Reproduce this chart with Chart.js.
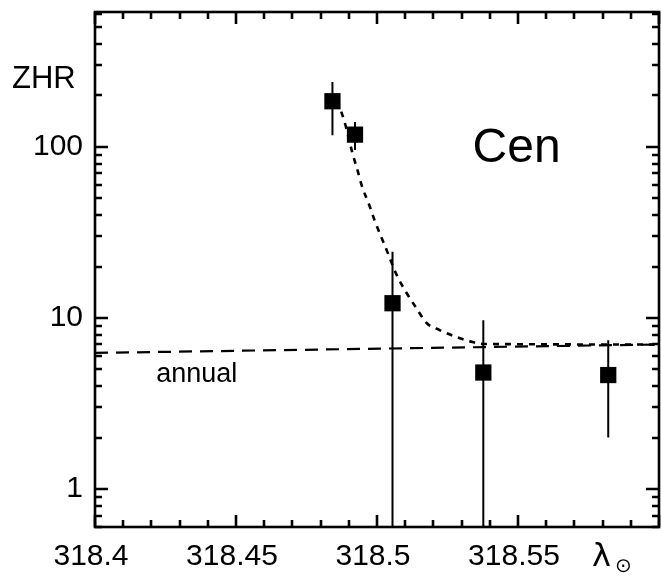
<!DOCTYPE html>
<html>
<head>
<meta charset="utf-8">
<script src="https://cdn.jsdelivr.net/npm/chart.js@4.4.1/dist/chart.umd.min.js"></script>
<style>
  html, body { margin: 0; padding: 0; background: #fff; }
  canvas { display: block; }
</style>
</head>
<body>
<canvas id="zhr" width="661" height="576"></canvas>
<script>
// Solar longitude (deg) and ZHR of the observed points, with error bar limits
const obsLon = [318.4842, 318.4922, 318.5055, 318.5377, 318.5820];
const obsZhr = [185, 118, 12.2, 4.8, 4.64];
const errHigh = [240, 140, 24.4, 9.7, 7.4];
const errLow = [117, 96, 0.3, 0.3, 2.0];

// Model profile (short dashes)
const fitLon = [318.4845, 318.4867, 318.4885, 318.4913, 318.4931, 318.4948, 318.4970, 318.4991,
                318.5012, 318.5034, 318.5052, 318.5073, 318.5105, 318.5140, 318.5176, 318.5222,
                318.5282, 318.5339, 318.5375, 318.6];
const fitZhr = [180, 169, 140, 92, 73, 58, 47, 37.4, 30.6, 25, 21, 17.4, 14, 11.4, 9.35, 8.5,
                7.74, 7.24, 7.05, 7.0];

// Annual shower level (long dashes)
const annualLon = [318.4, 318.6];
const annualZhr = [6.25, 7.0];

const xTickLabels = [318.4, 318.45, 318.5, 318.55];
const yTickLabels = [1, 10, 100];

const FONT = '"Liberation Sans", Arial, sans-serif';

function pairs(xs, ys) {
  return xs.map((x, i) => ({ x: x, y: ys[i] }));
}

// white page, frame, inward ticks on all four sides
const framePlugin = {
  id: 'frame',
  beforeDraw(chart) {
    const ctx = chart.ctx;
    ctx.save();
    ctx.fillStyle = '#fff';
    ctx.fillRect(0, 0, chart.width, chart.height);
    ctx.restore();
  },
  afterDraw(chart) {
    const { ctx, chartArea: a, scales: { x, y } } = chart;
    ctx.save();
    ctx.strokeStyle = '#000';
    ctx.lineWidth = 2.6;
    ctx.strokeRect(a.left, a.top, a.right - a.left, a.bottom - a.top);

    ctx.lineWidth = 2.6;
    ctx.beginPath();
    for (let d = -1; d <= 2; d++) {
      for (let m = 1; m <= 9; m++) {
        const v = m * Math.pow(10, d);
        if (v < y.min || v > y.max) continue;
        const py = Math.round(y.getPixelForValue(v));
        const len = m === 1 ? 13 : 7;
        ctx.moveTo(a.left, py); ctx.lineTo(a.left + len, py);
        ctx.moveTo(a.right, py); ctx.lineTo(a.right - len, py);
      }
    }
    for (let i = 0; i <= 20; i++) {
      const v = 318.4 + i * 0.01;
      const px = Math.round(x.getPixelForValue(v));
      const len = i % 5 === 0 ? 12 : 7;
      ctx.moveTo(px, a.bottom); ctx.lineTo(px, a.bottom - len);
      ctx.moveTo(px, a.top); ctx.lineTo(px, a.top + len);
    }
    ctx.stroke();

    // labels
    ctx.fillStyle = '#000';
    ctx.textBaseline = 'alphabetic';
    ctx.textAlign = 'left';
    ctx.font = '31px ' + FONT;
    ctx.fillText('ZHR', 12, 88);

    ctx.font = '48px ' + FONT;
    ctx.fillText('Cen', x.getPixelForValue(318.5339), y.getPixelForValue(81.7));

    ctx.font = '27px ' + FONT;
    ctx.fillText('annual', x.getPixelForValue(318.4217), y.getPixelForValue(4.23));

    ctx.font = '32px "DejaVu Sans", ' + FONT;
    ctx.fillText('λ', a.right - 67, 566);
    ctx.font = '20px "DejaVu Sans", ' + FONT;
    ctx.fillText('⊙', a.right - 44, 572);
    ctx.restore();
  }
};

// vertical error bars, clipped to the plot box
const errorBarPlugin = {
  id: 'errorBars',
  beforeDatasetsDraw(chart) {
    const { ctx, chartArea: a, scales: { x, y } } = chart;
    ctx.save();
    ctx.beginPath();
    ctx.rect(a.left, a.top, a.right - a.left, a.bottom - a.top);
    ctx.clip();
    ctx.strokeStyle = '#000';
    ctx.lineWidth = 2;
    ctx.beginPath();
    obsLon.forEach((lon, i) => {
      const px = x.getPixelForValue(lon);
      ctx.moveTo(px, y.getPixelForValue(errHigh[i]));
      ctx.lineTo(px, y.getPixelForValue(errLow[i]));
    });
    ctx.stroke();
    ctx.restore();
  }
};

new Chart(document.getElementById('zhr'), {
  type: 'scatter',
  data: {
    datasets: [
      {
        label: 'annual',
        type: 'line',
        data: pairs(annualLon, annualZhr),
        borderColor: '#000',
        borderWidth: 2.2,
        borderDash: [13, 8],
        pointRadius: 0,
        fill: false
      },
      {
        label: 'model',
        type: 'line',
        data: pairs(fitLon, fitZhr),
        borderColor: '#000',
        borderWidth: 2.6,
        borderDash: [6, 6],
        cubicInterpolationMode: 'monotone',
        pointRadius: 0,
        fill: false
      },
      {
        label: 'ZHR',
        data: pairs(obsLon, obsZhr),
        backgroundColor: '#000',
        borderColor: '#000',
        borderWidth: 0,
        pointStyle: 'rect',
        pointRadius: 11.5,
        pointHoverRadius: 11.5
      }
    ]
  },
  options: {
    responsive: false,
    animation: false,
    events: [],
    layout: { autoPadding: false, padding: { top: 12, right: 2, left: 0, bottom: 0 } },
    plugins: { legend: { display: false }, tooltip: { enabled: false } },
    scales: {
      x: {
        type: 'linear',
        min: 318.4,
        max: 318.6,
        grid: { display: false, drawTicks: false },
        border: { display: false },
        afterFit(scale) {
          scale.height = 49;
          scale.paddingLeft = 0;
          scale.paddingRight = 0;
        },
        afterBuildTicks(scale) { scale.ticks = xTickLabels.map(v => ({ value: v })); },
        ticks: {
          color: '#000',
          padding: 12,
          labelOffset: -4,
          font: { family: FONT, size: 30 },
          maxRotation: 0,
          autoSkip: false,
          callback: v => String(v)
        }
      },
      y: {
        type: 'logarithmic',
        min: 0.6,
        max: 615,
        grid: { display: false, drawTicks: false },
        border: { display: false },
        afterFit(scale) {
          scale.width = 95;
          scale.paddingTop = 0;
          scale.paddingBottom = 0;
        },
        afterBuildTicks(scale) { scale.ticks = yTickLabels.map(v => ({ value: v })); },
        ticks: {
          color: '#000',
          padding: 12,
          font: { family: FONT, size: 30 },
          autoSkip: false,
          callback: v => String(v)
        }
      }
    }
  },
  plugins: [framePlugin, errorBarPlugin]
});
</script>
</body>
</html>
